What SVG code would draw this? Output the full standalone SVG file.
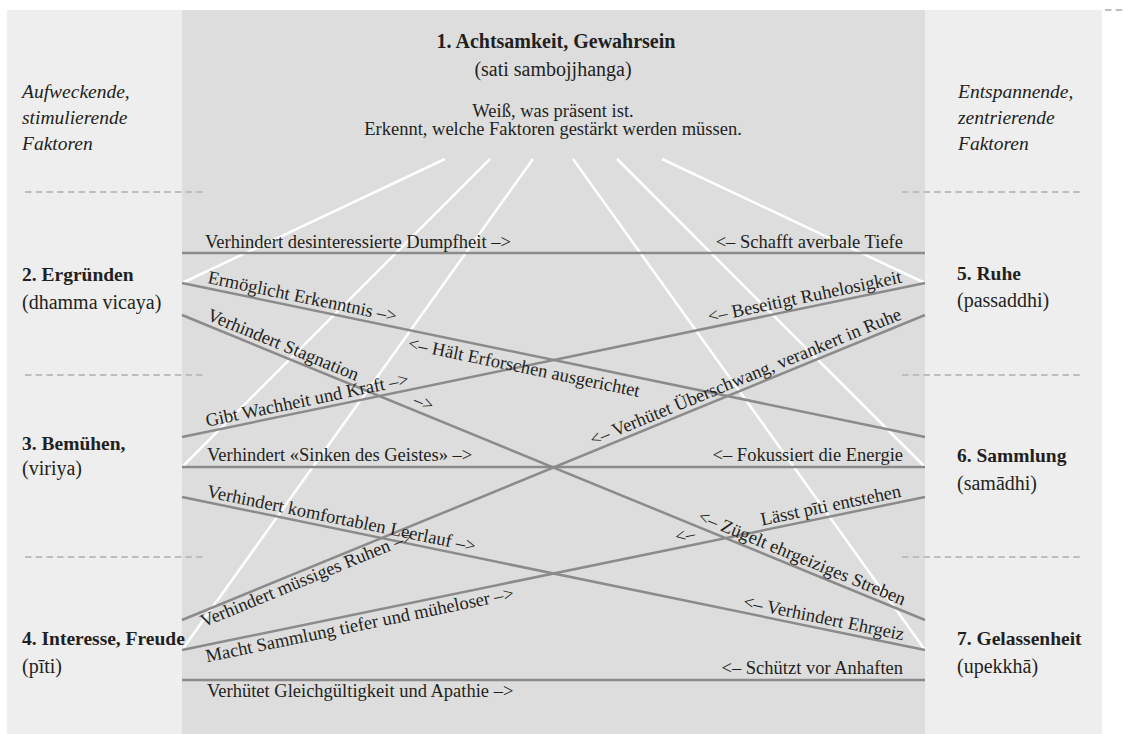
<svg xmlns="http://www.w3.org/2000/svg" width="1123" height="734" viewBox="0 0 1123 734">
<style>
text{font-family:"Liberation Serif","Times New Roman",serif;fill:#231f20}
.t{font-size:18.5px}
.h{font-size:19.5px;font-weight:bold}
.s{font-size:20px}
.it{font-size:19.5px;font-style:italic}
.g{stroke:#8b8b8b;stroke-width:2.5;fill:none}
.w{stroke:#ffffff;stroke-width:2.5;fill:none}
.d{stroke:#bdbdbd;stroke-width:2;stroke-dasharray:6.5 4.2;fill:none}
</style>
<rect width="1123" height="734" fill="#ffffff"/>
<g id="panels">
<rect x="7" y="10" width="175" height="724" fill="#eeeeee"/>
<rect x="182" y="10" width="743" height="724" fill="#dddddd"/>
<rect x="925" y="10" width="177" height="724" fill="#eeeeee"/>
</g>
<g id="separators">
<line class="d" x1="25" y1="192" x2="205" y2="192"/>
<line class="d" x1="25" y1="375" x2="205" y2="375"/>
<line class="d" x1="25" y1="557" x2="205" y2="557"/>
<line class="d" x1="902" y1="192" x2="1082" y2="192"/>
<line class="d" x1="902" y1="375" x2="1082" y2="375"/>
<line class="d" x1="902" y1="557" x2="1082" y2="557"/>
<line class="d" x1="1105" y1="10" x2="1123" y2="10"/>
</g>
<g id="side-headers">
<text class="it" x="22" y="98">Aufweckende,</text>
<text class="it" x="22" y="124">stimulierende</text>
<text class="it" x="22" y="150">Faktoren</text>
<text class="it" x="958" y="98">Entspannende,</text>
<text class="it" x="958" y="124">zentrierende</text>
<text class="it" x="958" y="150">Faktoren</text>
</g>
<g id="connectors">
<g id="awareness-lines">
<line class="w" x1="445" y1="159" x2="182" y2="283"/>
<line class="w" x1="490" y1="159" x2="182" y2="467"/>
<line class="w" x1="533" y1="159" x2="182" y2="650"/>
<line class="w" x1="573" y1="159" x2="925" y2="650"/>
<line class="w" x1="617" y1="159" x2="925" y2="467"/>
<line class="w" x1="662" y1="159" x2="925" y2="283"/>
</g>
<g id="relation-lines">
<line class="g" x1="182" y1="253" x2="925" y2="253"/>
<line class="g" x1="182" y1="283" x2="925" y2="437"/>
<line class="g" x1="182" y1="315" x2="925" y2="620"/>
<line class="g" x1="182" y1="437" x2="925" y2="283"/>
<line class="g" x1="182" y1="467" x2="925" y2="467"/>
<line class="g" x1="182" y1="497" x2="925" y2="650"/>
<line class="g" x1="182" y1="620" x2="925" y2="315"/>
<line class="g" x1="182" y1="650" x2="925" y2="497"/>
<line class="g" x1="182" y1="680" x2="925" y2="680"/>
</g>
<g id="relation-labels" class="t">
<text class="t" x="205" y="248">Verhindert desinteressierte Dumpfheit –&gt;</text>
<text class="t" x="903" y="248" text-anchor="end">&lt;– Schafft averbale Tiefe</text>
<g transform="translate(182 283) rotate(11.71)">
<text class="t" x="24.5" y="-5">Ermöglicht Erkenntnis –&gt;</text>
<text class="t" x="234" y="19">&lt;– Hält Erforschen ausgerichtet</text>
</g>
<g transform="translate(182 315) rotate(22.32)">
<text class="t" x="24" y="-5">Verhindert Stagnation</text>
<text class="t" x="247" y="-5">–&gt;</text>
<text class="t" x="777" y="-5" text-anchor="end">&lt;– Zügelt ehrgeiziges Streben</text>
</g>
<g transform="translate(182 437) rotate(-11.71)">
<text class="t" x="26.5" y="-5">Gibt Wachheit und Kraft –&gt;</text>
<text class="t" x="737" y="-5" text-anchor="end">&lt;– Beseitigt Ruhelosigkeit</text>
</g>
<text class="t" x="207" y="461">Verhindert «Sinken des Geistes» –&gt;</text>
<text class="t" x="903" y="461" text-anchor="end">&lt;– Fokussiert die Energie</text>
<g transform="translate(182 497) rotate(11.64)">
<text class="t" x="23.5" y="-5">Verhindert komfortablen Leerlauf –&gt;</text>
<text class="t" x="735" y="-5" text-anchor="end">&lt;– Verhindert Ehrgeiz</text>
</g>
<g transform="translate(182 620) rotate(-22.32)">
<text class="t" x="17" y="15">Verhindert müssiges Ruhen –&gt;</text>
<text class="t" x="781" y="-5" text-anchor="end">&lt;– Verhütet Überschwang, verankert in Ruhe</text>
</g>
<g transform="translate(182 650) rotate(-11.64)">
<text class="t" x="22" y="17">Macht Sammlung tiefer und müheloser –&gt;</text>
<text class="t" x="506" y="-5">&lt;–</text>
<text class="t" x="736" y="-5" text-anchor="end">Lässt pīti entstehen</text>
</g>
<text class="t" x="903" y="674" text-anchor="end">&lt;– Schützt vor Anhaften</text>
<text class="t" x="207" y="697">Verhütet Gleichgültigkeit und Apathie –&gt;</text>
</g>
</g>
<g id="node1" text-anchor="middle">
<text class="h" x="556" y="48" style="font-size:20px">1. Achtsamkeit, Gewahrsein</text>
<text class="s" x="553" y="76">(sati sambojjhanga)</text>
<text class="t" x="553" y="117">Weiß, was präsent ist.</text>
<text class="t" x="553" y="135">Erkennt, welche Faktoren gestärkt werden müssen.</text>
</g>
<g id="node2">
<text class="h" x="22" y="281">2. Ergründen</text>
<text class="s" x="22" y="309">(dhamma vicaya)</text>
</g>
<g id="node3">
<text class="h" x="22" y="450">3. Bemühen,</text>
<text class="s" x="22" y="475">(viriya)</text>
</g>
<g id="node4">
<text class="h" x="22" y="645">4. Interesse, Freude</text>
<text class="s" x="22" y="673">(pīti)</text>
</g>
<g id="node5">
<text class="h" x="957" y="280">5. Ruhe</text>
<text class="s" x="957" y="307">(passaddhi)</text>
</g>
<g id="node6">
<text class="h" x="957" y="462">6. Sammlung</text>
<text class="s" x="957" y="490">(samādhi)</text>
</g>
<g id="node7">
<text class="h" x="957" y="645">7. Gelassenheit</text>
<text class="s" x="957" y="673">(upekkhā)</text>
</g>
</svg>
